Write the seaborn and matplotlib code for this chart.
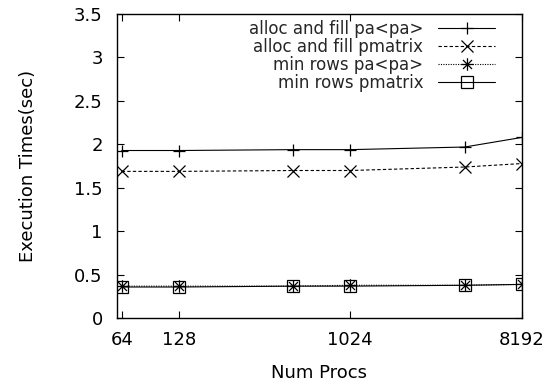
import matplotlib
matplotlib.use("Agg")
import matplotlib.pyplot as plt
from matplotlib.path import Path
from matplotlib.ticker import FuncFormatter, NullLocator
import seaborn as sns
import pandas as pd

# ---- data ----
procs = [64, 128, 512, 1024, 4096, 8192]
alloc_fill_papa = [1.93, 1.93, 1.94, 1.94, 1.97, 2.08]
alloc_fill_pmatrix = [1.69, 1.69, 1.70, 1.70, 1.74, 1.78]
min_rows_papa = [0.37, 0.37, 0.37, 0.38, 0.38, 0.39]
min_rows_pmatrix = [0.36, 0.36, 0.37, 0.37, 0.38, 0.39]
series_labels = ["alloc and fill pa<pa>", "alloc and fill pmatrix",
                 "min rows pa<pa>", "min rows pmatrix"]
x_ticks = [64, 128, 1024, 8192]
y_ticks = [0, 0.5, 1, 1.5, 2, 2.5, 3, 3.5]

sns.set_theme(style="ticks")
plt.rcParams["font.family"] = ["DejaVu Sans"]
plt.rcParams["xtick.direction"] = "in"
plt.rcParams["ytick.direction"] = "in"

star = Path([(-1, 0), (1, 0), (0, -1), (0, 1), (-0.72, -0.72), (0.72, 0.72), (-0.72, 0.72), (0.72, -0.72)],
            [Path.MOVETO, Path.LINETO] * 4)

fig = plt.figure(figsize=(5.57, 3.87), dpi=100)
ax = fig.add_axes([0.2095, 0.1775, 0.9366 - 0.2095, 0.9638 - 0.1775])

styles = [
    dict(marker="+", markersize=9, linestyle="-"),
    dict(marker="x", markersize=9, linestyle=(0, (3, 2))),
    dict(marker=star, markersize=9, linestyle=(0, (1, 1.2))),
    dict(marker="s", markersize=8.5, linestyle="-", fillstyle="none"),
]
all_vals = [alloc_fill_papa, alloc_fill_pmatrix, min_rows_papa, min_rows_pmatrix]
for vals, lab, st in zip(all_vals, series_labels, styles):
    df = pd.DataFrame({"procs": procs, "time": vals})
    sns.lineplot(data=df, x="procs", y="time", ax=ax, color="black",
                 linewidth=0.8, markeredgewidth=0.9, markeredgecolor="black",
                 markerfacecolor="none", label=lab, **st)

ax.set_xscale("log", base=2)
ax.set_xlim(60.2, 8192)
ax.set_ylim(0, 3.5)
ax.set_xticks(x_ticks)
ax.set_xticklabels([str(v) for v in x_ticks])
ax.xaxis.set_minor_locator(NullLocator())
ax.set_yticks(y_ticks)
ax.yaxis.set_major_formatter(FuncFormatter(lambda v, p: "%g" % v))
ax.tick_params(axis="both", which="major", length=5, width=0.8, color="black",
               labelsize=13, top=True, right=True, labelcolor="black")
ax.tick_params(axis="x", pad=9)
ax.tick_params(axis="y", pad=10)
for s in ax.spines.values():
    s.set_visible(True)
    s.set_color("black")
    s.set_linewidth(1.0)

ax.set_xlabel("Num Procs", fontsize=13, color="black", labelpad=11)
ax.set_ylabel("Execution Times(sec)", fontsize=13, color="black", labelpad=27)

ax.legend(loc="upper right", bbox_to_anchor=(0.934, 0.98), frameon=False,
          markerfirst=False, handlelength=3.4, handletextpad=0.9,
          fontsize=12, labelspacing=0.0, borderpad=0, borderaxespad=0)

fig.savefig("out.png", dpi=100)
